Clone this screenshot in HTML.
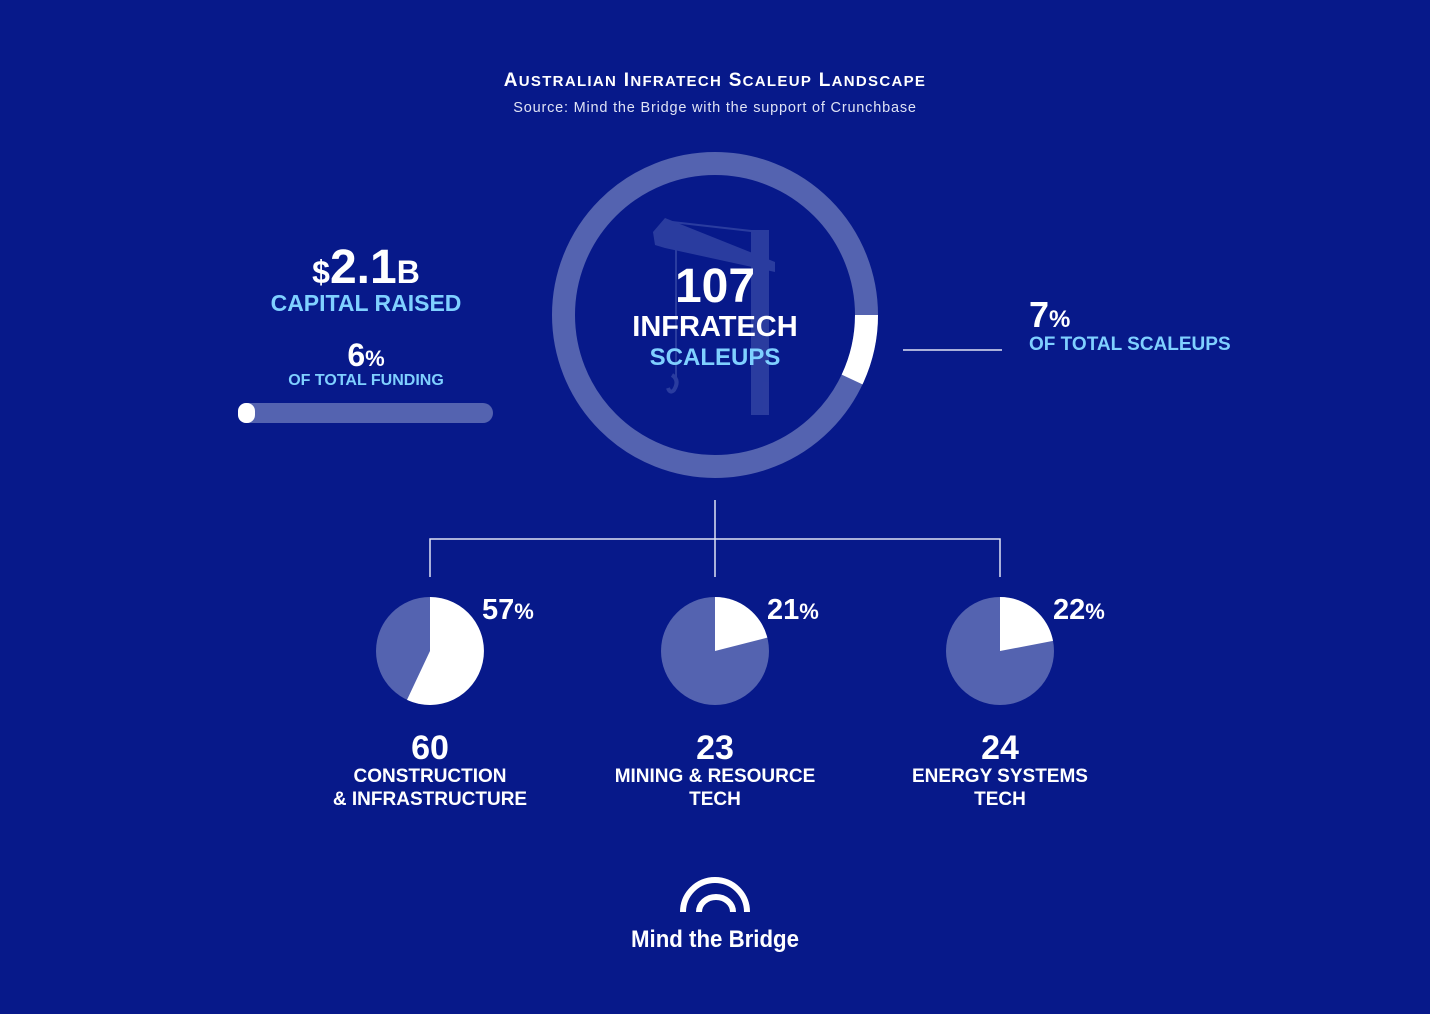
<!DOCTYPE html>
<html><head><meta charset="utf-8"><style>
html,body{margin:0;padding:0;background:#07198a;}
svg{display:block;font-family:"Liberation Sans",Arial,sans-serif;}
</style></head><body>
<svg width="1430" height="1014" viewBox="0 0 1430 1014">
<rect width="1430" height="1014" fill="#07198a"/>
<text x="715" y="86" text-anchor="middle" fill="#fff" font-weight="bold" font-size="19" letter-spacing="1.3">A<tspan font-size="15">USTRALIAN</tspan> I<tspan font-size="15">NFRATECH</tspan> S<tspan font-size="15">CALEUP</tspan> L<tspan font-size="15">ANDSCAPE</tspan></text>
<text x="715" y="112" text-anchor="middle" fill="#dfe3f5" font-size="14.5" letter-spacing="0.8">Source: Mind the Bridge with the support of Crunchbase</text>

<circle cx="715" cy="315" r="151.5" fill="none" stroke="#5463b0" stroke-width="23"/>
<path d="M866.5 315 A151.5 151.5 0 0 1 852.1 379.5" fill="none" stroke="#fff" stroke-width="23"/>
<g fill="#3a4ca8" opacity="0.7">
<polygon points="653,232 665,218 775,262 775,272 665,248 655,245"/>
<rect x="751" y="230" width="18" height="185"/>
<line x1="672" y1="222" x2="760" y2="232" stroke="#3a4ca8" stroke-width="2"/>
<line x1="676" y1="250" x2="676" y2="380" stroke="#3a4ca8" stroke-width="2"/>
<path d="M672 375 q8 5 2 15 q-4 4 -6 -2" fill="none" stroke="#3a4ca8" stroke-width="4"/>
</g>
<text x="715" y="302" text-anchor="middle" fill="#fff" font-weight="bold" font-size="48">107</text>
<text x="715" y="336" text-anchor="middle" fill="#fff" font-weight="bold" font-size="29">INFRATECH</text>
<text x="715" y="365" text-anchor="middle" fill="#7fd0ff" font-weight="bold" font-size="24">SCALEUPS</text>

<line x1="903" y1="350" x2="1002" y2="350" stroke="#dfe3f5" stroke-width="1.5"/>
<text x="1029" y="327" fill="#fff" font-weight="bold" font-size="36">7<tspan font-size="24">%</tspan></text>
<text x="1029" y="350" fill="#7fd0ff" font-weight="bold" font-size="19">OF TOTAL SCALEUPS</text>

<text x="366" y="283" text-anchor="middle" fill="#fff" font-weight="bold" font-size="48"><tspan font-size="32">$</tspan>2.1<tspan font-size="32">B</tspan></text>
<text x="366" y="311" text-anchor="middle" fill="#7fd0ff" font-weight="bold" font-size="23">CAPITAL RAISED</text>
<text x="366" y="366" text-anchor="middle" fill="#fff" font-weight="bold" font-size="32">6<tspan font-size="22">%</tspan></text>
<text x="366" y="385" text-anchor="middle" fill="#7fd0ff" font-weight="bold" font-size="16">OF TOTAL FUNDING</text>
<rect x="238" y="403" width="255" height="20" rx="10" fill="#5463b0"/>
<rect x="238" y="403" width="17" height="20" rx="8" fill="#fff"/>

<g stroke="#dfe3f5" stroke-width="1.5" fill="none">
<line x1="715" y1="500" x2="715" y2="577"/>
<polyline points="430,577 430,539 1000,539 1000,577"/>
</g>

<circle cx="430" cy="651" r="54" fill="#5463b0"/>
<path d="M430 651 L430 597 A54 54 0 1 1 407 699.9 Z" fill="#fff"/>
<circle cx="715" cy="651" r="54" fill="#5463b0"/>
<path d="M715 651 L715 597 A54 54 0 0 1 767.3 637.6 Z" fill="#fff"/>
<circle cx="1000" cy="651" r="54" fill="#5463b0"/>
<path d="M1000 651 L1000 597 A54 54 0 0 1 1053 640.9 Z" fill="#fff"/>

<g fill="#fff" font-weight="bold">
<text x="482" y="619" font-size="29">57<tspan font-size="22">%</tspan></text>
<text x="767" y="619" font-size="29">21<tspan font-size="22">%</tspan></text>
<text x="1053" y="619" font-size="29">22<tspan font-size="22">%</tspan></text>
<g text-anchor="middle">
<text x="430" y="759" font-size="34">60</text>
<text x="430" y="782" font-size="19">CONSTRUCTION</text>
<text x="430" y="805" font-size="19">&amp; INFRASTRUCTURE</text>
<text x="715" y="759" font-size="34">23</text>
<text x="715" y="782" font-size="19">MINING &amp; RESOURCE</text>
<text x="715" y="805" font-size="19">TECH</text>
<text x="1000" y="759" font-size="34">24</text>
<text x="1000" y="782" font-size="19">ENERGY SYSTEMS</text>
<text x="1000" y="805" font-size="19">TECH</text>
</g>
</g>

<g fill="none" stroke="#fff" stroke-width="6">
<path d="M683 912 A32 32 0 0 1 747 912"/>
<path d="M699 912 A17 15 0 0 1 733 912"/>
</g>
<text x="715" y="947" text-anchor="middle" fill="#fff" font-size="24" font-weight="bold" textLength="168" lengthAdjust="spacingAndGlyphs">Mind the Bridge</text>
</svg>
</body></html>
